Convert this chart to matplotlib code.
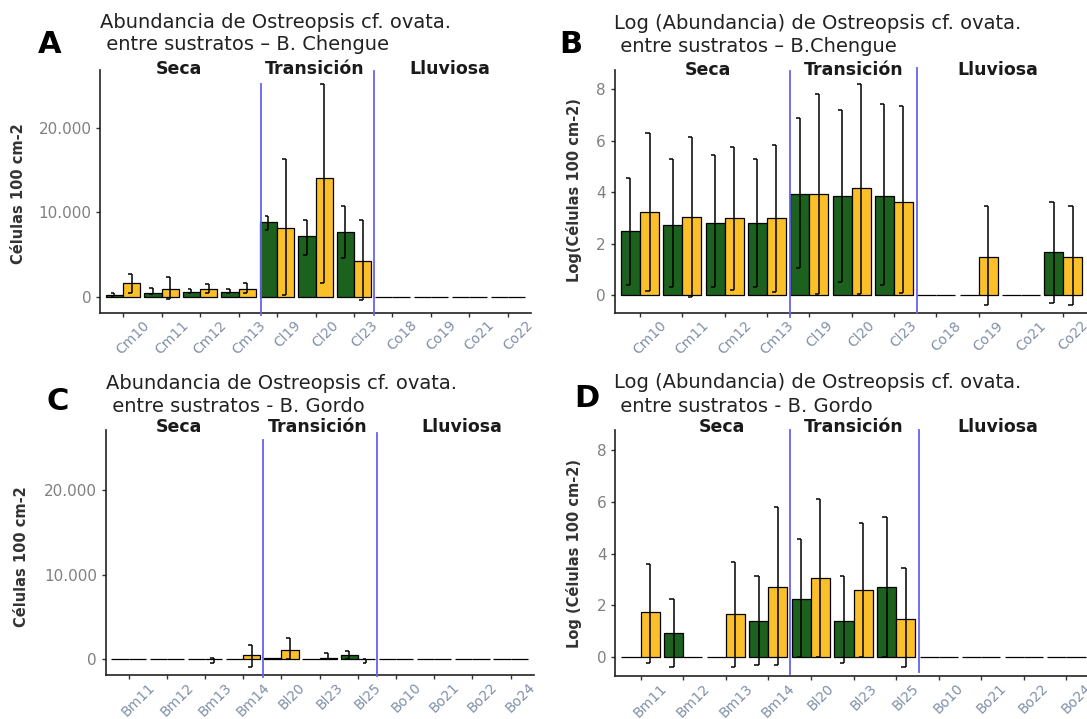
import matplotlib

matplotlib.use('Agg')
import matplotlib.pyplot as plt
import matplotlib.transforms as mtransforms
import numpy as np

plt.rcParams['font.family'] = ['DejaVu Sans']

W, H = 1087, 719
nan = np.nan

# ---- data ----
chengue_sites = ["Cm10", "Cm11", "Cm12", "Cm13", "Cl19", "Cl20", "Cl23", "Co18", "Co19", "Co21", "Co22"]
gordo_sites = ["Bm11", "Bm12", "Bm13", "Bm14", "Bl20", "Bl23", "Bl25", "Bo10", "Bo21", "Bo22", "Bo24"]
seasons = ["Seca", "Transición", "Lluviosa"]

# cells per 100 cm2, Chengue (green = first substrate, yellow = second)
chengue_green = [250, 470, 590, 590, 8890, 7190, 7630, 0, 0, 0, 0]
chengue_green_lo = [100, 350, 450, 450, 7900, 4940, 4550, nan, nan, nan, nan]
chengue_green_hi = [450, 990, 910, 870, 9600, 9090, 10790, nan, nan, nan, nan]
chengue_yellow = [1660, 870, 870, 870, 8140, 14110, 4270, 0, 0, 0, 0]
chengue_yellow_lo = [400, -320, 400, 400, 200, 1580, -400, nan, nan, nan, nan]
chengue_yellow_hi = [2690, 2370, 1500, 1660, 16280, 25180, 9090, nan, nan, nan, nan]

# log abundance, Chengue
chengue_log_green = [2.50, 2.72, 2.81, 2.81, 3.92, 3.84, 3.84, 0, 0, 0, 1.66]
chengue_log_green_lo = [0.39, 0.32, 0.30, 0.32, 1.04, 0.52, 0.39, nan, nan, nan, -0.32]
chengue_log_green_hi = [4.56, 5.27, 5.44, 5.27, 6.86, 7.18, 7.40, nan, nan, nan, 3.62]
chengue_log_yellow = [3.21, 3.04, 2.98, 2.98, 3.92, 4.14, 3.61, 0, 1.49, 0, 1.49]
chengue_log_yellow_lo = [0.17, -0.06, 0.19, 0.13, 0.04, 0.03, 0.06, nan, -0.39, nan, -0.39]
chengue_log_yellow_hi = [6.28, 6.15, 5.76, 5.83, 7.79, 8.18, 7.34, nan, 3.46, nan, 3.46]

# cells per 100 cm2, Gordo
gordo_green = [0, 0, 0, 0, 180, 25, 510, 0, 0, 0, 0]
gordo_green_lo = [nan, nan, nan, nan, nan, nan, 30, nan, nan, nan, nan]
gordo_green_hi = [nan, nan, nan, nan, nan, nan, 990, nan, nan, nan, nan]
gordo_yellow = [0, 0, 40, 510, 1100, 200, 30, 0, 0, 0, 0]
gordo_yellow_lo = [nan, nan, -450, -945, 0, 0, -470, nan, nan, nan, nan]
gordo_yellow_hi = [nan, nan, 120, 1690, 2480, 710, 30, nan, nan, nan, nan]

# log abundance, Gordo
gordo_log_green = [0, 0.94, 0, 1.39, 2.26, 1.39, 2.72, 0, 0, 0, 0]
gordo_log_green_lo = [nan, -0.41, nan, -0.32, 0.0, -0.25, 0.0, nan, nan, nan, nan]
gordo_log_green_hi = [nan, 2.26, nan, 3.14, 4.55, 3.14, 5.42, nan, nan, nan, nan]
gordo_log_yellow = [1.72, 0, 1.65, 2.72, 3.05, 2.58, 1.48, 0, 0, 0, 0]
gordo_log_yellow_lo = [-0.25, nan, -0.41, -0.32, 0.0, 0.0, -0.41, nan, nan, nan, nan]
gordo_log_yellow_hi = [3.59, nan, 3.69, 5.81, 6.10, 5.17, 3.43, nan, nan, nan, nan]

lin_ticks = [0, 10000, 20000]
lin_ticklabels = ["0", "10.000", "20.000"]
log_ticks = [0, 2, 4, 6, 8]

green = "#1c611d"
yellow = "#fbbf2a"
blue = "#6464ec"

fig = plt.figure(figsize=(W / 100, H / 100), dpi=100)


def px_rect(left, top, right, bottom):
    return [left / W, 1 - bottom / H, (right - left) / W, (bottom - top) / H]


def fig_text(x, y, s, **kw):
    fig.text(x / W, 1 - y / H, s, **kw)


def draw_panel(rect, sites, g, g_lo, g_hi, yv, y_lo, y_hi, ylim, yticks, yticklabels,
               vlines, season_x, season_y):
    ax = fig.add_axes(rect)
    x = np.arange(len(sites))
    w = 0.45
    ax.bar(x - w / 2, g, width=w, color=green, edgecolor="black", linewidth=0.9, zorder=2)
    ax.bar(x + w / 2, yv, width=w, color=yellow, edgecolor="black", linewidth=0.9, zorder=2)

    # error bars: vertical line with short caps to the left
    for xs, lo, hi in [(x - w / 2, g_lo, g_hi), (x + w / 2, y_lo, y_hi)]:
        lo = np.array(lo, dtype=float)
        hi = np.array(hi, dtype=float)
        ok = ~np.isnan(lo)
        ax.vlines(xs[ok], lo[ok], hi[ok], color="black", linewidth=1.1, zorder=3)
        ax.hlines(lo[ok], xs[ok] - 0.1, xs[ok], color="black", linewidth=1.1, zorder=3)
        ax.hlines(hi[ok], xs[ok] - 0.1, xs[ok], color="black", linewidth=1.1, zorder=3)

    ax.set_xlim(-0.6, len(sites) - 0.4)
    ax.set_ylim(*ylim)
    ax.set_xticks(x)
    ax.set_xticklabels(sites, rotation=45, ha="center", fontsize=10, color="#8090a8")
    ax.set_yticks(yticks)
    ax.set_yticklabels(yticklabels, fontsize=11, color="#808080")
    ax.tick_params(axis="both", length=3.2, width=1.0, color="#333333")
    ax.tick_params(axis="x", pad=0.5)
    ax.tick_params(axis="y", pad=3)
    shift = mtransforms.ScaledTranslation(0.10, 0, fig.dpi_scale_trans)
    for lab in ax.get_xticklabels():
        lab.set_transform(lab.get_transform() + shift)

    for side in ["top", "right"]:
        ax.spines[side].set_visible(False)
    for side in ["left", "bottom"]:
        ax.spines[side].set_linewidth(1.2)
        ax.spines[side].set_color("#222222")
    ax.patch.set_alpha(0)

    trans = ax.get_xaxis_transform()
    for xv, y0, y1 in vlines:
        ax.plot([xv, xv], [y0, y1], color=blue, linewidth=1.3, transform=trans, clip_on=False, zorder=4)

    for name, sx in zip(seasons, season_x):
        ax.text(sx, season_y, name, transform=trans, ha="center", va="baseline",
                fontsize=12.5, fontweight="bold", color="#1a1a1a")
    return ax


# A: abundance, Chengue
draw_panel(px_rect(100, 70, 531, 313), chengue_sites,
           chengue_green, chengue_green_lo, chengue_green_hi,
           chengue_yellow, chengue_yellow_lo, chengue_yellow_hi,
           (-1930, 26860), lin_ticks, lin_ticklabels,
           [(3.58, -0.008, 0.941), (6.53, -0.008, 0.995)], [1.44, 4.98, 8.49], 0.982)

# B: log abundance, Chengue
draw_panel(px_rect(614.6, 70, 1088.6, 313.3), chengue_sites,
           chengue_log_green, chengue_log_green_lo, chengue_log_green_hi,
           chengue_log_yellow, chengue_log_yellow_lo, chengue_log_yellow_hi,
           (-0.71, 8.74), log_ticks, [str(t) for t in log_ticks],
           [(3.55, -0.014, 0.997), (6.55, 0.0, 1.01)], [1.61, 5.06, 8.46], 0.98)

# C: abundance, Gordo
draw_panel(px_rect(105.6, 430, 533.6, 675), gordo_sites,
           gordo_green, gordo_green_lo, gordo_green_hi,
           gordo_yellow, gordo_yellow_lo, gordo_yellow_hi,
           (-1850, 27070), lin_ticks, lin_ticklabels,
           [(3.53, -0.007, 0.959), (6.5, -0.003, 0.989)], [1.32, 4.95, 8.73], 0.99)

# D: log abundance, Gordo
draw_panel(px_rect(615, 430, 1092, 676), gordo_sites,
           gordo_log_green, gordo_log_green_lo, gordo_log_green_hi,
           gordo_log_yellow, gordo_log_yellow_lo, gordo_log_yellow_hi,
           (-0.74, 8.79), log_ticks, [str(t) for t in log_ticks],
           [(3.52, 0.007, 1.0), (6.54, 0.015, 1.0)], [1.91, 5.01, 8.39], 0.993)

# panel titles
title_kw = dict(fontsize=14, color="#222222", ha="left", va="baseline")
fig_text(100, 28.5, "Abundancia de Ostreopsis cf. ovata.", **title_kw)
fig_text(100, 50.5, " entre sustratos – B. Chengue", **title_kw)
fig_text(614, 29.3, "Log (Abundancia) de Ostreopsis cf. ovata.", **title_kw)
fig_text(614, 51.7, " entre sustratos – B.Chengue", **title_kw)
fig_text(106, 389.3, "Abundancia de Ostreopsis cf. ovata.", **title_kw)
fig_text(106, 411.7, " entre sustratos - B. Gordo", **title_kw)
fig_text(614, 388.3, "Log (Abundancia) de Ostreopsis cf. ovata.", **title_kw)
fig_text(614, 411.7, " entre sustratos - B. Gordo", **title_kw)

# panel letters
letter_kw = dict(fontsize=22, fontweight="bold", color="black", ha="left", va="baseline")
fig_text(38, 53.3, "A", **letter_kw)
fig_text(559, 53.3, "B", **letter_kw)
fig_text(46, 410, "C", **letter_kw)
fig_text(574, 406.7, "D", **letter_kw)

# y axis titles
ylab_kw = dict(fontsize=10.5, fontweight="bold", color="#333333", rotation=90, ha="center", va="center")
fig_text(19, 193.3, "Células 100 cm-2", **ylab_kw)
fig_text(574.5, 190, "Log(Células 100 cm-2)", **ylab_kw)
fig_text(22, 556.7, "Células 100 cm-2", **ylab_kw)
fig_text(574.5, 553, "Log (Células 100 cm-2)", **ylab_kw)

fig.savefig("out.png", dpi=100)
